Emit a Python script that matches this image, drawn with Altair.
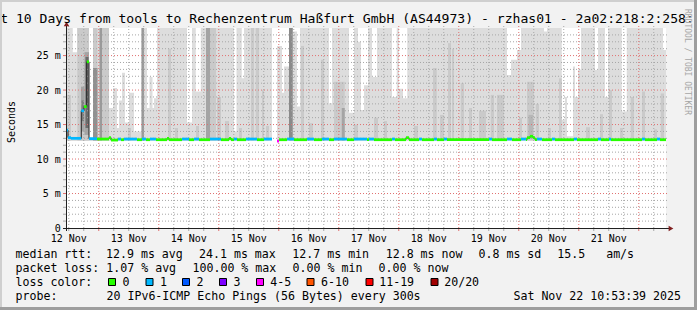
import altair as alt
import pandas as pd

MONO = "DejaVu Sans Mono"
FULL = 29.0          # top of the value axis (ms)
SPAN = 240.0         # 10 days shown, in hours since Nov 12 10:53:39
NOON0 = 1.106        # Nov 12 12:00 in hours since graph start
MIDNIGHT0 = 13.106   # Nov 13 00:00 in hours since graph start

# ---------------- median rtt runs (start hour, median ms, lost pings) ----------------
med_start = [0.0, 0.8, 2.0, 6.1, 7.2, 8.3, 9.2, 12.4, 17.2, 18.0, 20.8, 22.0, 23.2, 28.4,
             30.4, 32.0, 33.6, 36.0, 40.4, 41.2, 46.4, 49.2, 51.2, 53.2, 57.6, 62.0, 65.2,
             66.0, 67.2, 68.4, 72.0, 76.4, 79.2, 82.4, 84.4, 85.2, 88.4, 91.2, 96.4, 99.2,
             102.4, 105.2, 107.2, 112.4, 115.2, 120.4, 121.2, 123.2, 130.4, 131.6, 136.0,
             137.2, 141.2, 142.4, 147.2, 148.4, 151.2, 152.4, 169.2, 170.4, 176.4, 178.4,
             182.0, 184.0, 184.4, 185.6, 186.8, 187.6, 188.4, 190.4, 194.4, 195.6, 203.2,
             204.4, 212.8, 214.0, 217.2, 218.0, 230.4, 231.6, 236.4, 237.6]
med_ms = [14.2, 13.1, 13.0, 17.0, 17.6, 24.1, 12.95, 12.9, 13.1, 12.75, 12.9, 12.8, 12.9, 12.8,
          12.9, 12.8, 12.9, 12.8, 13.0, 12.8, 12.9, 12.8, 12.9, 12.8, 12.9, 12.8, 13.0,
          12.8, 12.9, 12.8, 12.9, 12.8, 12.9, None, 12.6, 12.8, 12.9, 12.8, 12.9, 12.8,
          12.9, 12.8, 12.9, 12.8, 12.9, 12.8, 12.9, 12.8, 12.9, 12.8, 13.1,
          12.8, 12.9, 12.8, 12.9, 12.8, 12.9, 12.8, 12.9, 12.8, 12.9, 12.8,
          12.9, 12.8, 13.1, 13.3, 13.1, 12.8, 12.9, 12.8, 12.9, 12.8, 12.9,
          12.8, 12.9, 12.8, 12.9, 12.8, 12.9, 12.8, 12.9, 12.8]
med_loss = ["1", "1", "1", "1", "0", "0", "1", "0", "0", "0", "1", "0", "1", "0",
            "1", "0", "1", "0", "0", "0", "1", "0", "1", "0", "1", "0", "0",
            "0", "1", "0", "1", "0", "1", None, "4-5", "0", "1", "0", "1", "0",
            "1", "0", "1", "0", "1", "0", "1", "0", "1", "0", "0",
            "0", "1", "0", "1", "0", "1", "0", "1", "0", "1", "0",
            "1", "0", "0", "0", "0", "0", "1", "0", "1", "0", "1",
            "0", "1", "0", "1", "0", "1", "0", "1", "0"]

loss_labels = ["0", "1", "2", "3", "4-5", "6-10", "11-19", "20/20"]
loss_colors = ["#26ff00", "#00b8ff", "#0059ff", "#7e00ff", "#ff00ff", "#ff5500", "#ff0000", "#a10000"]

# ---------------- smoke: where the slowest ping stays below the top ----------------
gap_start = [2.7, 9.2, 17.2, 18.8, 20.4, 21.2, 22.4, 23.6, 25.2, 27.2, 32.4, 33.4, 34.6, 35.2,
             48.4, 51.9, 67.2, 70.3, 82.4, 84.4, 86.4, 87.2, 90.7, 92.4, 105.2, 113.2, 116.8,
             118.0, 119.2, 122.4, 130.4, 133.2, 134.8, 176.4, 178.0, 180.4, 191.2, 198.3,
             199.6, 200.4, 202.8, 203.6, 204.8, 211.6, 215.6, 222.3, 238.8]
gap_end = [4.5, 10.8, 18.8, 20.4, 21.2, 22.4, 23.6, 25.2, 27.2, 30.2, 33.4, 34.6, 35.2, 36.4,
           50.4, 53.9, 68.2, 71.2, 84.4, 86.4, 87.2, 89.2, 92.4, 93.6, 106.4, 115.2, 118.0,
           119.2, 120.8, 124.4, 132.3, 134.8, 136.5, 178.0, 180.4, 182.0, 192.4, 199.6,
           200.4, 202.8, 203.6, 204.8, 206.0, 212.8, 216.8, 224.3, 240.0]
gap_top = [25.5, 13.2, 17.4, 20.3, 14.5, 18.5, 22.5, 15.3, 19.6, 14.0, 17.4, 21.9, 17.4, 18.8,
           15.3, 19.8, 14.0, 21.7, None, 26.4, 19.6, 23.4, 28.5, 17.6, 18.1, 16.7, 27.0,
           17.1, 20.7, 21.9, 19.0, 20.2, 18.8, 22.2, 24.4, 25.8, 28.5, 15.7,
           19.0, 13.3, 23.4, 19.0, 23.0, 22.9, 19.0, 16.9, 25.8]
SMOKE_FLOOR = 12.6

# ---------------- smoke: inner (darker) bands ----------------
col_start = [0.4, 4.5, 6.0, 6.2, 7.4, 7.8, 10.8, 10.8, 13.4, 14.4, 24.8, 30.2, 40.8, 43.6, 52.0,
             56.0, 57.6, 60.4, 63.6, 69.2, 74.0, 75.9, 78.4, 80.0, 89.2, 94.0, 97.2, 102.0,
             107.2, 110.3, 115.2, 123.2, 127.2, 139.2, 146.8, 149.6, 152.8, 154.4, 157.9,
             161.2, 165.2, 169.9, 172.4, 181.2, 184.4, 185.0, 187.9, 192.8, 197.2, 208.0,
             213.6, 217.2, 221.6, 225.9, 230.4, 235.2, 237.9]
col_end = [2.0, 9.2, 7.4, 7.2, 9.2, 9.0, 12.6, 12.6, 14.4, 17.2, 26.0, 31.2, 42.0, 44.8, 53.2,
           57.6, 60.0, 62.0, 65.2, 70.4, 75.2, 77.2, 79.2, 81.2, 90.7, 95.2, 98.8, 103.2,
           111.5, 111.5, 116.8, 124.8, 128.4, 140.8, 148.3, 151.2, 154.0, 155.2, 159.2,
           162.4, 168.0, 171.2, 175.2, 182.4, 187.2, 186.8, 189.2, 194.0, 198.3, 209.6,
           214.8, 218.4, 222.8, 227.2, 231.6, 236.4, 239.2]
col_low = [12.7, 12.7, 14.0, 15.5, 13.5, 14.5, 12.7, 12.7, 12.7, 12.7, 12.7, 12.7, 12.7, 12.7, 12.7,
           12.7, 12.7, 12.7, 12.7, 12.7, 12.7, 12.7, 12.7, 12.7, 12.7, 12.7, 12.7, 12.7,
           12.7, 12.7, 12.7, 12.7, 12.7, 12.7, 12.7, 12.7, 12.7, 12.7, 12.7,
           12.7, 12.7, 12.7, 12.7, 12.7, 12.7, 12.9, 12.7, 12.7, 12.7, 12.7,
           12.7, 12.7, 12.7, 12.7, 12.7, 12.7, 12.7]
col_high = [19.3, 29.0, 20.5, 18.5, 25.5, 24.8, 29.0, 23.2, 29.0, 29.0, 14.5, 29.0, 26.0, 14.5, 14.8,
            29.0, 29.0, 19.0, 15.5, 14.5, 29.0, 29.0, 20.0, 14.8, 29.0, 26.4, 15.2, 24.4,
            21.2, 17.4, 15.0, 16.0, 15.5, 14.8, 23.2, 16.4, 26.8, 26.0, 21.0,
            17.4, 17.0, 19.3, 19.3, 16.0, 21.2, 16.4, 18.0, 14.5, 21.7, 14.6,
            16.5, 20.0, 14.5, 19.0, 19.8, 14.3, 19.5]
col_shade = ["#cacaca", "#cacaca", "#a4a4a4", "#7e7e7e", "#a4a4a4", "#6b6b6b", "#cacaca", "#919191",
             "#9a9a9a", "#cacaca", "#cacaca", "#999999", "#cacaca", "#cacaca", "#cacaca",
             "#a4a4a4", "#cacaca", "#cacaca", "#cacaca", "#cacaca", "#cacaca", "#cacaca", "#cacaca",
             "#cacaca", "#8a8a8a", "#cacaca", "#cacaca", "#cacaca", "#cacaca", "#a4a4a4", "#cacaca",
             "#cacaca", "#cacaca", "#cacaca", "#cacaca", "#cacaca", "#cacaca", "#cacaca", "#cacaca",
             "#cacaca", "#cacaca", "#cacaca", "#cacaca", "#cacaca", "#cacaca", "#b7b7b7", "#cacaca",
             "#cacaca", "#cacaca", "#cacaca", "#cacaca", "#cacaca", "#cacaca", "#cacaca", "#cacaca",
             "#cacaca", "#cacaca"]

# ---------------- axes / texts ----------------
day_labels = ["12 Nov", "13 Nov", "14 Nov", "15 Nov", "16 Nov", "17 Nov", "18 Nov", "19 Nov",
              "20 Nov", "21 Nov"]
y_tick_values = [0, 5, 10, 15, 20, 25]
y_tick_texts = ["0\u00a0\u00a0", "5 m", "10 m", "15 m", "20 m", "25 m"]
title_text = ("Last 10 Days from tools to Rechenzentrum Ha\u00dffurt GmbH (AS44973) - rzhas01 - "
              "2a02:218:2:258::2")
rtt_stats = ["12.9 ms avg", "24.1 ms max", "12.7 ms min", "12.8 ms now", "0.8 ms sd",
             "15.5\u00a0\u00a0\u00a0am/s"]
loss_stats = ["1.07 % avg", "100.00 % max", "0.00 % min", "0.00 % now"]
probe_text = "20 IPv6-ICMP Echo Pings (56 Bytes) every 300s"
stamp_text = "Sat Nov 22 10:53:39 2025"

# ---------------- build tables ----------------
xs = alt.Scale(domain=[0, SPAN], nice=False, zero=False)
ys = alt.Scale(domain=[0, FULL], nice=False, zero=False)

ends = med_start[1:] + [SPAN]
bar_rows, line_rows = [], []
part = 0
for i, (s, e, v, l) in enumerate(zip(med_start, ends, med_ms, med_loss)):
    if v is None:
        part += 1
        continue
    bar_rows.append(dict(t0=s, t1=e, lo=v - 0.2, hi=v + 0.2, loss=l))
    line_rows.append(dict(t=s, ms=v, part=part))
    nxt_none = (i + 1 < len(med_ms) and med_ms[i + 1] is None) or i + 1 == len(med_ms)
    if nxt_none:
        line_rows.append(dict(t=e, ms=v, part=part))
bars = pd.DataFrame(bar_rows)
mline = pd.DataFrame(line_rows)

env_rows = []
cur = 0.0
for gs, ge, gt in sorted(zip(gap_start, gap_end, gap_top), key=lambda r: r[0]):
    if gs > cur:
        env_rows.append(dict(t=cur, hi=FULL, lo=SMOKE_FLOOR))
    env_rows.append(dict(t=gs, hi=(gt if gt is not None else SMOKE_FLOOR), lo=SMOKE_FLOOR))
    cur = ge
if cur < SPAN:
    env_rows.append(dict(t=cur, hi=FULL, lo=SMOKE_FLOOR))
env_rows.append(dict(t=SPAN, hi=env_rows[-1]["hi"], lo=SMOKE_FLOOR))
env = pd.DataFrame(env_rows)

cols = pd.DataFrame(dict(t0=col_start, t1=col_end, lo=col_low, hi=col_high, shade=col_shade))

minor_y = pd.DataFrame(dict(v=[v for v in range(1, 29) if v % 5]))
major_y = pd.DataFrame(dict(v=[5, 10, 15, 20, 25]))
major_x_vals = [MIDNIGHT0 + 24 * k for k in range(10)]
minor_x_vals = [NOON0 + 6 * k for k in range(40) if abs((NOON0 + 6 * k - MIDNIGHT0) % 24) > 0.01]
minor_x = pd.DataFrame(dict(v=minor_x_vals))
major_x = pd.DataFrame(dict(v=major_x_vals))
xlab = pd.DataFrame(dict(v=[NOON0 + 24 * k for k in range(10)], txt=day_labels))
ylab = pd.DataFrame(dict(v=y_tick_values, txt=y_tick_texts))
one = pd.DataFrame(dict(z=[0]))

MINOR = "#a6a6a6"
MAJOR = "#e07070"

layers = []
# smoke envelope (outer pings)
layers.append(alt.Chart(env).mark_area(interpolate="step-after", color="#dddddd").encode(
    x=alt.X("t:Q", scale=xs, axis=None), y=alt.Y("hi:Q", scale=ys, axis=None), y2="lo:Q"))
# inner smoke bands
layers.append(alt.Chart(cols).mark_rect().encode(
    x=alt.X("t0:Q", scale=xs, axis=None), x2="t1:Q",
    y=alt.Y("lo:Q", scale=ys, axis=None), y2="hi:Q",
    color=alt.Color("shade:N", scale=None)))
# grid
layers.append(alt.Chart(minor_y).mark_rule(color=MINOR, strokeDash=[1, 2], strokeWidth=1).encode(
    y=alt.Y("v:Q", scale=ys, axis=None), x=alt.value(0), x2=alt.value(602)))
layers.append(alt.Chart(minor_x).mark_rule(color=MINOR, strokeDash=[1, 2], strokeWidth=1).encode(
    x=alt.X("v:Q", scale=xs, axis=None), y=alt.value(-2), y2=alt.value(200)))
layers.append(alt.Chart(major_y).mark_rule(color=MAJOR, strokeDash=[1, 2], strokeWidth=1).encode(
    y=alt.Y("v:Q", scale=ys, axis=None), x=alt.value(0), x2=alt.value(602)))
layers.append(alt.Chart(major_x).mark_rule(color=MAJOR, strokeDash=[1, 2], strokeWidth=1).encode(
    x=alt.X("v:Q", scale=xs, axis=None), y=alt.value(-2), y2=alt.value(200)))
# small solid ticks outside the plot
layers.append(alt.Chart(minor_y).mark_rule(color=MINOR, strokeWidth=1).encode(
    y=alt.Y("v:Q", scale=ys, axis=None), x=alt.value(-3), x2=alt.value(0)))
layers.append(alt.Chart(major_y).mark_rule(color=MAJOR, strokeWidth=1).encode(
    y=alt.Y("v:Q", scale=ys, axis=None), x=alt.value(-3), x2=alt.value(0)))
layers.append(alt.Chart(minor_x).mark_rule(color=MINOR, strokeWidth=1).encode(
    x=alt.X("v:Q", scale=xs, axis=None), y=alt.value(200), y2=alt.value(203)))
layers.append(alt.Chart(major_x).mark_rule(color=MAJOR, strokeWidth=1).encode(
    x=alt.X("v:Q", scale=xs, axis=None), y=alt.value(200), y2=alt.value(203)))
# median line + loss-coloured bars
layers.append(alt.Chart(mline).mark_line(interpolate="step-after", color="#202020", strokeWidth=1).encode(
    x=alt.X("t:Q", scale=xs, axis=None), y=alt.Y("ms:Q", scale=ys, axis=None), detail="part:N"))
layers.append(alt.Chart(bars).mark_rect().encode(
    x=alt.X("t0:Q", scale=xs, axis=None), x2="t1:Q",
    y=alt.Y("lo:Q", scale=ys, axis=None), y2="hi:Q",
    color=alt.Color("loss:N", scale=alt.Scale(domain=loss_labels, range=loss_colors), legend=None)))
# axis lines and arrows
layers.append(alt.Chart(one).mark_rule(color="#202020", strokeWidth=1).encode(
    x=alt.value(0.5), y=alt.value(-3), y2=alt.value(203)))
layers.append(alt.Chart(one).mark_rule(color="#202020", strokeWidth=1).encode(
    y=alt.value(200.5), x=alt.value(-3), x2=alt.value(603)))
layers.append(alt.Chart(one).mark_point(shape="triangle-up", filled=True, size=30, color="#801f1f", opacity=1).encode(
    x=alt.value(0.5), y=alt.value(-4)))
layers.append(alt.Chart(one).mark_point(shape="triangle-right", filled=True, size=30, color="#801f1f", opacity=1).encode(
    x=alt.value(605), y=alt.value(200.5)))
# tick labels
layers.append(alt.Chart(xlab).mark_text(font=MONO, fontSize=10, align="center", baseline="alphabetic", color="black").encode(
    x=alt.X("v:Q", scale=xs, axis=None), y=alt.value(213.7), text="txt:N"))
layers.append(alt.Chart(ylab).mark_text(font=MONO, fontSize=10, align="right", baseline="alphabetic", dy=3.6, color="black").encode(
    y=alt.Y("v:Q", scale=ys, axis=None), x=alt.value(-5.3), text="txt:N"))


def txt(s, x, y, size=11.6, align="left", color="black", angle=None, baseline="alphabetic"):
    kw = dict(font=MONO, fontSize=size, align=align, baseline=baseline, color=color)
    if angle is not None:
        kw["angle"] = angle
    return alt.Chart(one).mark_text(**kw).encode(x=alt.value(x), y=alt.value(y), text=alt.value(s))


layers.append(txt(title_text, -89.5, -4.7, size=13.1))
layers.append(txt("Seconds", -51, 94, size=10, align="center", angle=270))
layers.append(txt("RRDTOOL / TOBI OETIKER", 621, -19, size=8, color="#a6a6a6", angle=90, baseline="middle"))

# legend lines
ROW = [230.3, 244.3, 258.3, 272.3]
layers.append(txt("median rtt:", -50.5, ROW[0]))
for s, x in zip(rtt_stats, [40, 133, 226.3, 319.7, 412.5, 491.3]):
    layers.append(txt(s, x, ROW[0]))
layers.append(txt("packet loss:", -50.5, ROW[1]))
for s, x in zip(loss_stats, [40.3, 126.5, 226.6, 312.6]):
    layers.append(txt(s, x, ROW[1]))
layers.append(txt("loss color:", -50.5, ROW[2]))
box_left = [42, 79.5, 116, 153, 190, 240.5, 299.5, 364.5]
lab_left = [56.5, 94, 130.5, 167.5, 204.2, 255, 313.2, 378.2]
for lab, colr, bx, lx in zip(loss_labels, loss_colors, box_left, lab_left):
    layers.append(alt.Chart(one).mark_rect(color=colr, stroke="black", strokeWidth=1).encode(
        x=alt.value(bx + 0.5), x2=alt.value(bx + 7.5), y=alt.value(250.5), y2=alt.value(257.5)))
    layers.append(txt(lab, lx, ROW[2]))
layers.append(txt("probe:", -50.5, ROW[3]))
layers.append(txt(probe_text, 40.5, ROW[3]))
layers.append(txt(stamp_text, 615, ROW[3], align="right"))

# image frame
layers.append(alt.Chart(one).mark_rect(color="#cfcfcf").encode(
    x=alt.value(-66), x2=alt.value(631), y=alt.value(-28), y2=alt.value(-26)))
layers.append(alt.Chart(one).mark_rect(color="#cfcfcf").encode(
    x=alt.value(-66), x2=alt.value(-64), y=alt.value(-28), y2=alt.value(282)))
layers.append(alt.Chart(one).mark_rect(color="#9e9e9e").encode(
    x=alt.value(628), x2=alt.value(631), y=alt.value(-28), y2=alt.value(282)))
layers.append(alt.Chart(one).mark_rect(color="#9e9e9e").encode(
    x=alt.value(-66), x2=alt.value(631), y=alt.value(279), y2=alt.value(282)))

chart = alt.layer(*layers).properties(
    width=600, height=200,
    padding={"left": 66, "top": 28, "right": 31, "bottom": 82},
    autosize=alt.AutoSizeParams(type="none"),
    background="#f2f2f2",
).configure_view(fill="white", stroke=None)

chart.save("out.html", embed_options={"renderer": "svg", "actions": False})
